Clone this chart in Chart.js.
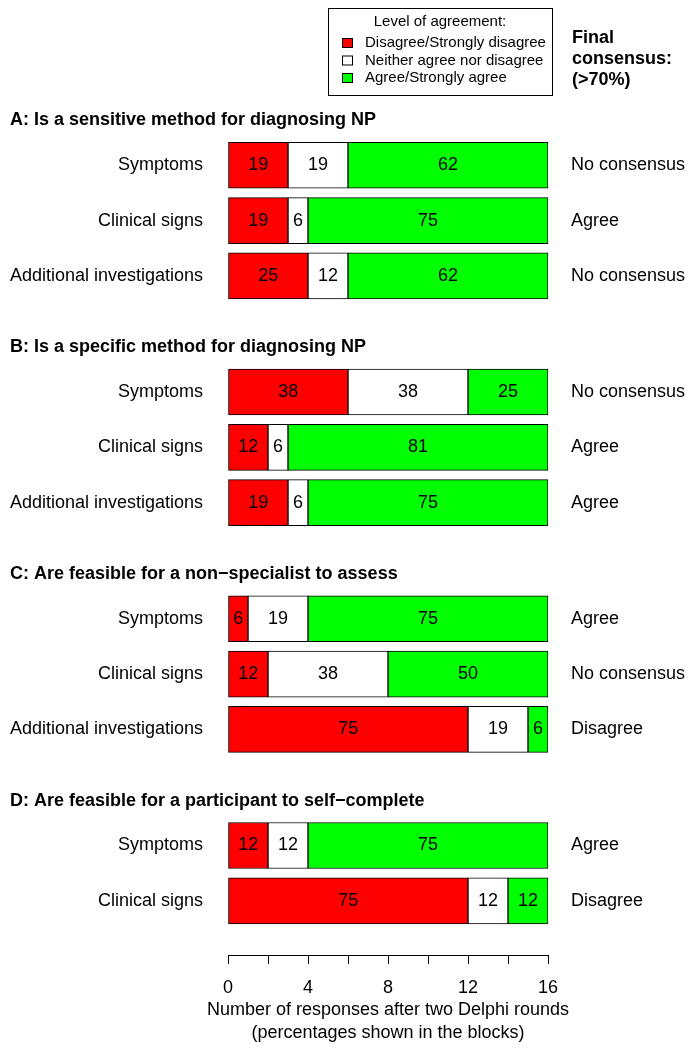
<!DOCTYPE html>
<html>
<head>
<meta charset="utf-8">
<title>Delphi consensus on diagnosing NP</title>
<script src="https://cdn.jsdelivr.net/npm/chart.js@4.4.0/dist/chart.umd.min.js"></script>
<style>
  html, body { margin: 0; padding: 0; background: #fff; }
  #wrap { position: relative; width: 696px; height: 1049px; }
</style>
</head>
<body>
<div id="wrap"><canvas id="delphiChart"></canvas></div>
<script>
//----------------------
// Data
//----------------------

const sectionTitles = [
    'A: Is a sensitive method for diagnosing NP',
    'B: Is a specific method for diagnosing NP',
    'C: Are feasible for a non\u2212specialist to assess',
    'D: Are feasible for a participant to self\u2212complete'
];
const rowSection = [0, 0, 0, 1, 1, 1, 2, 2, 2, 3, 3];
const rowLabels = [
    'Symptoms', 'Clinical signs', 'Additional investigations',
    'Symptoms', 'Clinical signs', 'Additional investigations',
    'Symptoms', 'Clinical signs', 'Additional investigations',
    'Symptoms', 'Clinical signs'
];
// number of responses (out of 16)
const disagree = [3, 3, 4, 6, 2, 3, 1, 2, 12, 2, 12];
const neither  = [3, 1, 2, 6, 1, 1, 3, 6, 3, 2, 2];
const agree    = [10, 12, 10, 4, 13, 12, 12, 8, 1, 12, 2];
const consensus = [
    'No consensus', 'Agree', 'No consensus',
    'No consensus', 'Agree', 'Agree',
    'Agree', 'No consensus', 'Disagree',
    'Agree', 'Disagree'
];
const totalResponses = 16;
const xTickLabels = [0, 4, 8, 12, 16];
const seriesNames = ['Disagree/Strongly disagree', 'Neither agree nor disagree', 'Agree/Strongly agree'];
const legendTitle = 'Level of agreement:';
const consensusTitle = ['Final', 'consensus:', '(>70%)'];
const xTitle = ['Number of responses after two Delphi rounds', '(percentages shown in the blocks)'];

//----------------------
// Layout on the y scale (one unit = one row)
//----------------------

const FONT = '"Liberation Sans", Arial, Helvetica, sans-serif';
const firstRow = 1.18;
const sectionStep = 4.1;
const titleOffset = -0.81;
const yMax = 15.46;

let rowInSection = [];
rowSection.forEach((s, i) => {
    rowInSection.push(i > 0 && rowSection[i - 1] === s ? rowInSection[i - 1] + 1 : 0);
});
const rowPos = rowSection.map((s, i) => firstRow + s * sectionStep + rowInSection[i]);

function pct(n) { // percentage rounded half to even, like R
    const v = n / totalResponses * 100;
    const f = Math.floor(v);
    if (Math.abs(v - f - 0.5) < 1e-9) return f % 2 === 0 ? f : f + 1;
    return Math.round(v);
}

//----------------------
// Text, labels and legend box
//----------------------

const annotate = {
    id: 'annotate',
    afterDatasetsDraw(chart) {
        const ctx = chart.ctx;
        const xScale = chart.scales.x;
        const yScale = chart.scales.y;
        ctx.save();
        ctx.fillStyle = '#000';
        ctx.textBaseline = 'middle';

        // percentages inside the blocks
        ctx.font = '18px ' + FONT;
        ctx.textAlign = 'center';
        chart.data.datasets.forEach((ds, d) => {
            chart.getDatasetMeta(d).data.forEach((bar, i) => {
                const v = ds.data[i].x;
                if (v > 0) ctx.fillText(pct(v), (bar.x + bar.base) / 2, bar.y);
            });
        });

        // x axis title, below the tick labels
        xTitle.forEach((t, k) => {
            ctx.fillText(t, (xScale.left + xScale.right) / 2, xScale.top + 55 + k * 23);
        });

        // row labels on the left, consensus on the right
        rowLabels.forEach((lab, i) => {
            const y = yScale.getPixelForValue(rowPos[i]);
            ctx.textAlign = 'right';
            ctx.fillText(lab, xScale.left - 25, y);
            ctx.textAlign = 'left';
            ctx.fillText(consensus[i], xScale.right + 23, y);
        });

        // section titles
        ctx.font = 'bold 18px ' + FONT;
        ctx.textAlign = 'left';
        sectionTitles.forEach((t, s) => {
            ctx.fillText(t, 10, yScale.getPixelForValue(firstRow + s * sectionStep + titleOffset));
        });
        consensusTitle.forEach((t, k) => {
            ctx.fillText(t, xScale.right + 24, 38.5 + k * 21);
        });

        // legend box
        ctx.strokeStyle = '#000';
        ctx.lineWidth = 1;
        ctx.strokeRect(328.5, 8.5, 224, 87);
        ctx.font = '15px ' + FONT;
        ctx.textAlign = 'center';
        ctx.fillText(legendTitle, 440, 22);
        ctx.textAlign = 'left';
        chart.data.datasets.forEach((ds, d) => {
            const y = 43 + d * 17.5;
            ctx.fillStyle = ds.backgroundColor;
            ctx.fillRect(342.5, y - 4.5, 10, 9);
            ctx.strokeRect(342.5, y - 4.5, 10, 9);
            ctx.fillStyle = '#000';
            ctx.fillText(ds.label, 365, y);
        });
        ctx.restore();
    }
};

//----------------------
// Chart
//----------------------

const ctx = document.getElementById('delphiChart').getContext('2d');
const chart = new Chart(ctx, {
    type: 'bar',
    data: {
        datasets: [
            {
                label: seriesNames[0],
                data: disagree.map((v, i) => ({ x: v, y: rowPos[i] })),
                backgroundColor: '#ff0000'
            },
            {
                label: seriesNames[1],
                data: neither.map((v, i) => ({ x: v, y: rowPos[i] })),
                backgroundColor: '#ffffff'
            },
            {
                label: seriesNames[2],
                data: agree.map((v, i) => ({ x: v, y: rowPos[i] })),
                backgroundColor: '#00ff00'
            }
        ]
    },
    options: {
        indexAxis: 'y',
        responsive: true,
        maintainAspectRatio: false,
        animation: false,
        layout: { padding: { left: 228, right: 148, top: 100, bottom: 37.4 } },
        datasets: {
            bar: { barThickness: 46, borderColor: '#000', borderWidth: 1, borderSkipped: false }
        },
        scales: {
            x: {
                type: 'linear',
                stacked: true,
                min: 0,
                max: totalResponses,
                ticks: {
                    stepSize: 2,
                    autoSkip: false,
                    maxRotation: 0,
                    padding: 13,
                    color: '#000',
                    font: { family: FONT, size: 18 },
                    callback: v => xTickLabels.includes(v) ? v : ''
                },
                grid: { drawOnChartArea: false, drawTicks: true, tickLength: 9, color: '#000' },
                border: { display: true, color: '#000', width: 1 },
                title: { display: false }
            },
            y: {
                type: 'linear',
                stacked: true,
                reverse: true,
                offset: false,
                min: 0,
                max: yMax,
                display: false
            }
        },
        plugins: {
            legend: { display: false },
            tooltip: { enabled: false }
        }
    },
    plugins: [annotate]
});
</script>
</body>
</html>
